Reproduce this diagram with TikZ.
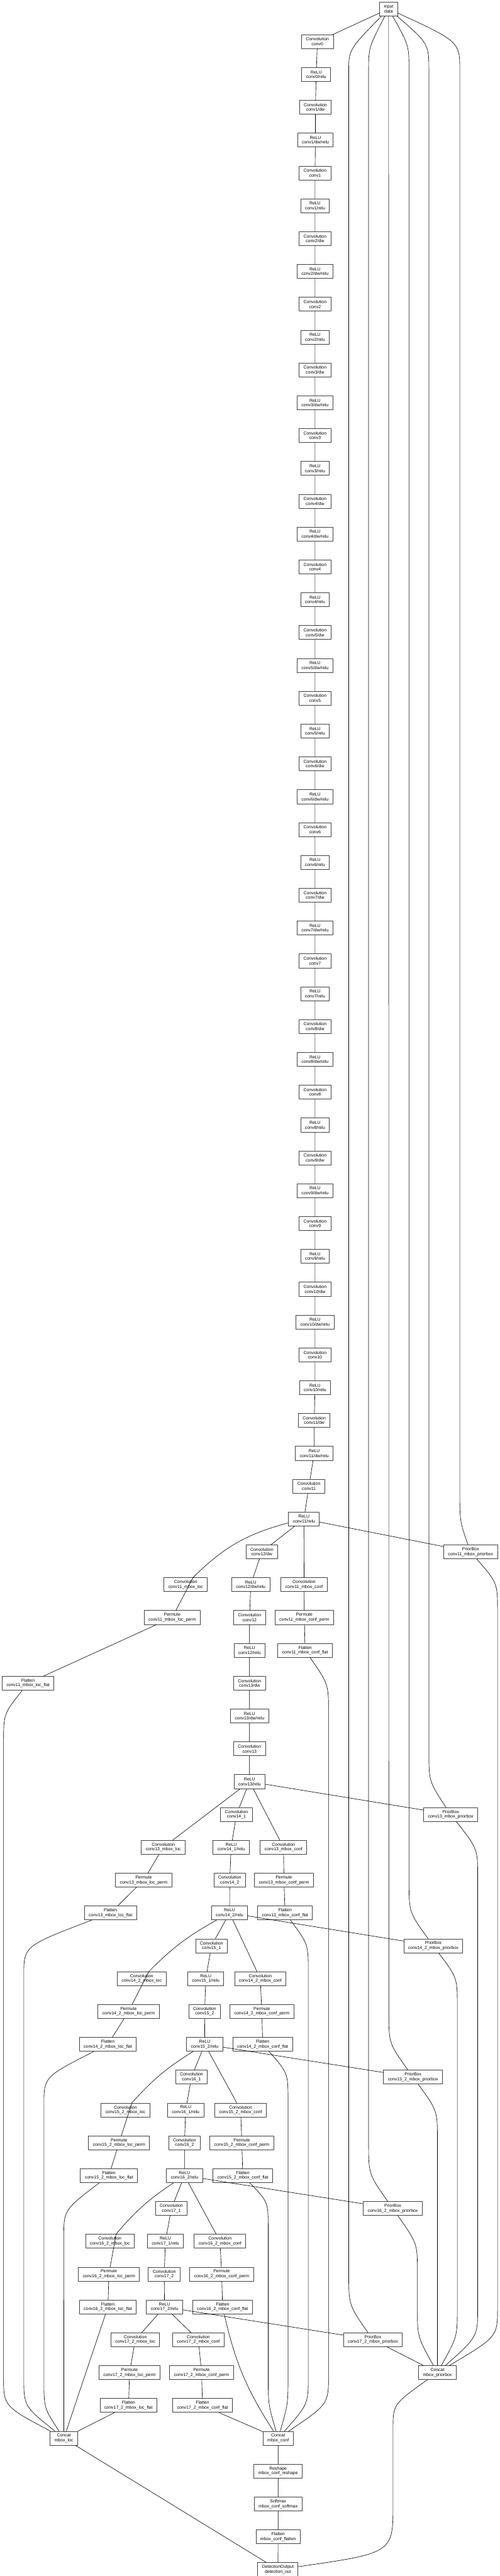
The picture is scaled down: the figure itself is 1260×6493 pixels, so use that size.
\documentclass[tikz,border=0pt]{standalone}
\usepackage{fontspec}
\setmainfont{Liberation Sans}
\tikzset{
  layer/.style={draw=black!75,line width=1pt,fill=white,align=center,
    inner xsep=8.25pt,inner ysep=2pt,minimum height=26.25pt,
    font=\fontsize{8.25}{9}\selectfont},
  link/.style={line width=0.75pt},
}
\begin{document}
\begin{tikzpicture}[x=0.75pt,y=0.75pt,line cap=round,line join=round]
  \useasboundingbox (0,0) rectangle (1260,-6493);
  % input
  \node[layer] (data) at (979.5,-22.25) {input\\data};
  % backbone conv0 .. conv11
  \node[layer] (c0) at (800,-105) {Convolution\\conv0};
  \node[layer] (c0r) at (797,-187.75) {ReLU\\conv0/relu};
  \node[layer] (c1dw) at (795,-270.5) {Convolution\\conv1/dw};
  \node[layer] (c1dwr) at (795,-353.25) {ReLU\\conv1/dw/relu};
  \node[layer] (c1) at (794,-436) {Convolution\\conv1};
  \node[layer] (c1r) at (794,-518.75) {ReLU\\conv1/relu};
  \node[layer] (c2dw) at (794,-601.5) {Convolution\\conv2/dw};
  \node[layer] (c2dwr) at (794,-684.25) {ReLU\\conv2/dw/relu};
  \node[layer] (c2) at (794,-767) {Convolution\\conv2};
  \node[layer] (c2r) at (794,-849.75) {ReLU\\conv2/relu};
  \node[layer] (c3dw) at (794,-932.5) {Convolution\\conv3/dw};
  \node[layer] (c3dwr) at (794,-1015.25) {ReLU\\conv3/dw/relu};
  \node[layer] (c3) at (794,-1098) {Convolution\\conv3};
  \node[layer] (c3r) at (794,-1180.75) {ReLU\\conv3/relu};
  \node[layer] (c4dw) at (794,-1263.5) {Convolution\\conv4/dw};
  \node[layer] (c4dwr) at (794,-1346.25) {ReLU\\conv4/dw/relu};
  \node[layer] (c4) at (794,-1429) {Convolution\\conv4};
  \node[layer] (c4r) at (794,-1511.75) {ReLU\\conv4/relu};
  \node[layer] (c5dw) at (794,-1594.5) {Convolution\\conv5/dw};
  \node[layer] (c5dwr) at (794,-1677.25) {ReLU\\conv5/dw/relu};
  \node[layer] (c5) at (794,-1760) {Convolution\\conv5};
  \node[layer] (c5r) at (794,-1842.75) {ReLU\\conv5/relu};
  \node[layer] (c6dw) at (794,-1925.5) {Convolution\\conv6/dw};
  \node[layer] (c6dwr) at (794,-2008.25) {ReLU\\conv6/dw/relu};
  \node[layer] (c6) at (794,-2091) {Convolution\\conv6};
  \node[layer] (c6r) at (794,-2173.75) {ReLU\\conv6/relu};
  \node[layer] (c7dw) at (794,-2256.5) {Convolution\\conv7/dw};
  \node[layer] (c7dwr) at (794,-2339.25) {ReLU\\conv7/dw/relu};
  \node[layer] (c7) at (794,-2422) {Convolution\\conv7};
  \node[layer] (c7r) at (794,-2504.75) {ReLU\\conv7/relu};
  \node[layer] (c8dw) at (794,-2587.5) {Convolution\\conv8/dw};
  \node[layer] (c8dwr) at (794,-2670.25) {ReLU\\conv8/dw/relu};
  \node[layer] (c8) at (794,-2753) {Convolution\\conv8};
  \node[layer] (c8r) at (794,-2835.75) {ReLU\\conv8/relu};
  \node[layer] (c9dw) at (794,-2918.5) {Convolution\\conv9/dw};
  \node[layer] (c9dwr) at (794,-3001.25) {ReLU\\conv9/dw/relu};
  \node[layer] (c9) at (794,-3084) {Convolution\\conv9};
  \node[layer] (c9r) at (794,-3166.75) {ReLU\\conv9/relu};
  \node[layer] (c10dw) at (794,-3249.5) {Convolution\\conv10/dw};
  \node[layer] (c10dwr) at (794,-3332.25) {ReLU\\conv10/dw/relu};
  \node[layer] (c10) at (794,-3415) {Convolution\\conv10};
  \node[layer] (c10r) at (794,-3497.75) {ReLU\\conv10/relu};
  \node[layer] (c11dw) at (792,-3580.5) {Convolution\\conv11/dw};
  \node[layer] (c11dwr) at (792,-3663.25) {ReLU\\conv11/dw/relu};
  \node[layer] (c11) at (778.6,-3746) {Convolution\\conv11};
  \node[layer] (c11r) at (766,-3828.75) {ReLU\\conv11/relu};
  % conv12 .. conv17
  \node[layer] (c12dw) at (660,-3911.5) {Convolution\\conv12/dw};
  \node[layer] (c12dwr) at (632,-3994.25) {ReLU\\conv12/dw/relu};
  \node[layer] (c12) at (629,-4077) {Convolution\\conv12};
  \node[layer] (c12r) at (629,-4159.75) {ReLU\\conv12/relu};
  \node[layer] (c13dw) at (629,-4242.5) {Convolution\\conv13/dw};
  \node[layer] (c13dwr) at (629,-4325.25) {ReLU\\conv13/dw/relu};
  \node[layer] (c13) at (629,-4408) {Convolution\\conv13};
  \node[layer] (c13r) at (629,-4490.75) {ReLU\\conv13/relu};
  \node[layer] (c141) at (596,-4573.5) {Convolution\\conv14\_1};
  \node[layer] (c141r) at (582.6,-4656.25) {ReLU\\conv14\_1/relu};
  \node[layer] (c142) at (579,-4739) {Convolution\\conv14\_2};
  \node[layer] (c142r) at (578.6,-4821.75) {ReLU\\conv14\_2/relu};
  \node[layer] (c151) at (533,-4904.5) {Convolution\\conv15\_1};
  \node[layer] (c151r) at (518.6,-4987.25) {ReLU\\conv15\_1/relu};
  \node[layer] (c152) at (515.8,-5070) {Convolution\\conv15\_2};
  \node[layer] (c152r) at (516,-5152.75) {ReLU\\conv15\_2/relu};
  \node[layer] (c161) at (482.6,-5235.5) {Convolution\\conv16\_1};
  \node[layer] (c161r) at (468,-5318.25) {ReLU\\conv16\_1/relu};
  \node[layer] (c162) at (465,-5401) {Convolution\\conv16\_2};
  \node[layer] (c162r) at (465,-5483.75) {ReLU\\conv16\_2/relu};
  \node[layer] (c171) at (432,-5566.5) {Convolution\\conv17\_1};
  \node[layer] (c171r) at (417,-5649.25) {ReLU\\conv17\_1/relu};
  \node[layer] (c172) at (414,-5732) {Convolution\\conv17\_2};
  \node[layer] (c172r) at (414.7,-5814.75) {ReLU\\conv17\_2/relu};
  % loc heads
  \node[layer] (loc11) at (468,-3994.25) {Convolution\\conv11\_mbox\_loc};
  \node[layer] (loc11p) at (434,-4077) {Permute\\conv11\_mbox\_loc\_perm};
  \node[layer] (loc11f) at (70.6,-4242.5) {Flatten\\conv11\_mbox\_loc\_flat};
  \node[layer] (loc13) at (411.6,-4656.25) {Convolution\\conv13\_mbox\_loc};
  \node[layer] (loc13p) at (362,-4739) {Permute\\conv13\_mbox\_loc\_perm};
  \node[layer] (loc13f) at (278.5,-4821.75) {Flatten\\conv13\_mbox\_loc\_flat};
  \node[layer] (loc14) at (357,-4987.25) {Convolution\\conv14\_2\_mbox\_loc};
  \node[layer] (loc14p) at (324,-5070) {Permute\\conv14\_2\_mbox\_loc\_perm};
  \node[layer] (loc14f) at (272,-5152.75) {Flatten\\conv14\_2\_mbox\_loc\_flat};
  \node[layer] (loc15) at (316,-5318.25) {Convolution\\conv15\_2\_mbox\_loc};
  \node[layer] (loc15p) at (300,-5401) {Permute\\conv15\_2\_mbox\_loc\_perm};
  \node[layer] (loc15f) at (274.5,-5483.75) {Flatten\\conv15\_2\_mbox\_loc\_flat};
  \node[layer] (loc16) at (277,-5649.25) {Convolution\\conv16\_2\_mbox\_loc};
  \node[layer] (loc16p) at (274.5,-5732) {Permute\\conv16\_2\_mbox\_loc\_perm};
  \node[layer] (loc16f) at (272,-5814.75) {Flatten\\conv16\_2\_mbox\_loc\_flat};
  \node[layer] (loc17) at (341,-5897.5) {Convolution\\conv17\_2\_mbox\_loc};
  \node[layer] (loc17p) at (326.6,-5980.25) {Permute\\conv17\_2\_mbox\_loc\_perm};
  \node[layer] (loc17f) at (324,-6063) {Flatten\\conv17\_2\_mbox\_loc\_flat};
  % conf heads
  \node[layer] (conf11) at (766.5,-3994.25) {Convolution\\conv11\_mbox\_conf};
  \node[layer] (conf11p) at (767,-4077) {Permute\\conv11\_mbox\_conf\_perm};
  \node[layer] (conf11f) at (769,-4159.75) {Flatten\\conv11\_mbox\_conf\_flat};
  \node[layer] (conf13) at (714.5,-4656.25) {Convolution\\conv13\_mbox\_conf};
  \node[layer] (conf13p) at (715.6,-4739) {Permute\\conv13\_mbox\_conf\_perm};
  \node[layer] (conf13f) at (718.5,-4821.75) {Flatten\\conv13\_mbox\_conf\_flat};
  \node[layer] (conf14) at (656,-4987.25) {Convolution\\conv14\_2\_mbox\_conf};
  \node[layer] (conf14p) at (660,-5070) {Permute\\conv14\_2\_mbox\_conf\_perm};
  \node[layer] (conf14f) at (662,-5152.75) {Flatten\\conv14\_2\_mbox\_conf\_flat};
  \node[layer] (conf15) at (606.5,-5318.25) {Convolution\\conv15\_2\_mbox\_conf};
  \node[layer] (conf15p) at (609.5,-5401) {Permute\\conv15\_2\_mbox\_conf\_perm};
  \node[layer] (conf15f) at (612,-5483.75) {Flatten\\conv15\_2\_mbox\_conf\_flat};
  \node[layer] (conf16) at (554.5,-5649.25) {Convolution\\conv16\_2\_mbox\_conf};
  \node[layer] (conf16p) at (558.7,-5732) {Permute\\conv16\_2\_mbox\_conf\_perm};
  \node[layer] (conf16f) at (561,-5814.75) {Flatten\\conv16\_2\_mbox\_conf\_flat};
  \node[layer] (conf17) at (500,-5897.5) {Convolution\\conv17\_2\_mbox\_conf};
  \node[layer] (conf17p) at (508,-5980.25) {Permute\\conv17\_2\_mbox\_conf\_perm};
  \node[layer] (conf17f) at (510.5,-6063) {Flatten\\conv17\_2\_mbox\_conf\_flat};
  % prior boxes
  \node[layer] (p11) at (1186,-3911.5) {PriorBox\\conv11\_mbox\_priorbox};
  \node[layer] (p13) at (1136,-4573.5) {PriorBox\\conv13\_mbox\_priorbox};
  \node[layer] (p14) at (1092,-4904.5) {PriorBox\\conv14\_2\_mbox\_priorbox};
  \node[layer] (p15) at (1041,-5235.5) {PriorBox\\conv15\_2\_mbox\_priorbox};
  \node[layer] (p16) at (990,-5566.5) {PriorBox\\conv16\_2\_mbox\_priorbox};
  \node[layer] (p17) at (940,-5897.5) {PriorBox\\conv17\_2\_mbox\_priorbox};
  % concat and output
  \node[layer] (mboxloc) at (161,-6145.75) {Concat\\mbox\_loc};
  \node[layer] (mboxconf) at (701,-6145.75) {Concat\\mbox\_conf};
  \node[layer] (mboxprior) at (1102.5,-5980.25) {Concat\\mbox\_priorbox};
  \node[layer] (reshape) at (701,-6228.5) {Reshape\\mbox\_conf\_reshape};
  \node[layer] (softmax) at (701,-6311.25) {Softmax\\mbox\_conf\_softmax};
  \node[layer] (flatten) at (701,-6394) {Flatten\\mbox\_conf\_flatten};
  \node[layer] (detout) at (700.5,-6476.75) {DetectionOutput\\detection\_out};

  % backbone links
  \draw[link] (data) -- (c0) -- (c0r) -- (c1dw) -- (c1dwr) -- (c1) -- (c1r)
    -- (c2dw) -- (c2dwr) -- (c2) -- (c2r) -- (c3dw) -- (c3dwr) -- (c3) -- (c3r)
    -- (c4dw) -- (c4dwr) -- (c4) -- (c4r) -- (c5dw) -- (c5dwr) -- (c5) -- (c5r)
    -- (c6dw) -- (c6dwr) -- (c6) -- (c6r) -- (c7dw) -- (c7dwr) -- (c7) -- (c7r)
    -- (c8dw) -- (c8dwr) -- (c8) -- (c8r) -- (c9dw) -- (c9dwr) -- (c9) -- (c9r)
    -- (c10dw) -- (c10dwr) -- (c10) -- (c10r) -- (c11dw) -- (c11dwr) -- (c11) -- (c11r);
  \draw[link] (c11r) -- (c12dw) -- (c12dwr) -- (c12) -- (c12r) -- (c13dw) -- (c13dwr)
    -- (c13) -- (c13r) -- (c141) -- (c141r) -- (c142) -- (c142r) -- (c151) -- (c151r)
    -- (c152) -- (c152r) -- (c161) -- (c161r) -- (c162) -- (c162r) -- (c171) -- (c171r)
    -- (c172) -- (c172r);
  % heads
  \draw[link] (c11r) to[bend right=15] (loc11) -- (loc11p) -- (loc11f);
  \draw[link] (c11r) -- (conf11) -- (conf11p) -- (conf11f);
  \draw[link] (c11r) -- (p11);
  \draw[link] (c13r) -- (loc13) -- (loc13p) -- (loc13f);
  \draw[link] (c13r) -- (conf13) -- (conf13p) -- (conf13f);
  \draw[link] (c13r) -- (p13);
  \draw[link] (c142r) to[bend right=8] (loc14) -- (loc14p) -- (loc14f);
  \draw[link] (c142r) -- (conf14) -- (conf14p) -- (conf14f);
  \draw[link] (c142r) -- (p14);
  \draw[link] (c152r) to[bend right=8] (loc15) -- (loc15p) -- (loc15f);
  \draw[link] (c152r) -- (conf15) -- (conf15p) -- (conf15f);
  \draw[link] (c152r) -- (p15);
  \draw[link] (c162r) to[bend right=8] (loc16) -- (loc16p) -- (loc16f);
  \draw[link] (c162r) -- (conf16) -- (conf16p) -- (conf16f);
  \draw[link] (c162r) -- (p16);
  \draw[link] (c172r) -- (loc17) -- (loc17p) -- (loc17f);
  \draw[link] (c172r) -- (conf17) -- (conf17p) -- (conf17f);
  \draw[link] (c172r) -- (p17);
  % data to prior boxes
  \draw[link] (data) .. controls (1159,-105) .. (1159,-180) -- (1159,-3760) .. controls (1159,-3835) .. (p11);
  \draw[link] (data) .. controls (1081,-110) .. (1081,-180) -- (1081,-4414) .. controls (1081,-4490) .. (p13);
  \draw[link] (data) .. controls (1031,-115) .. (1031,-180) -- (1031,-4743) .. controls (1031,-4820) .. (p14);
  \draw[link] (data) -- (980,-5071) .. controls (980,-5150) .. (p15);
  \draw[link] (data) .. controls (929,-120) .. (929,-180) -- (929,-5400) .. controls (929,-5480) .. (p16);
  \draw[link] (data) .. controls (879,-125) .. (879,-180) -- (879,-5730) .. controls (879,-5810) .. (p17);
  % prior boxes to concat
  \draw[link] (p11) .. controls (1254,-3990) .. (1254,-4062) -- (1254,-5817) .. controls (1254,-5890) .. (mboxprior);
  \draw[link] (p13) .. controls (1204,-4660) .. (1204,-4732) -- (1204,-5817) .. controls (1204,-5890) .. (mboxprior);
  \draw[link] (p14) .. controls (1152.6,-4985) .. (1152.6,-5058) -- (1152.6,-5817) .. controls (1152.6,-5890) .. (mboxprior);
  \draw[link] (p15) .. controls (1102.5,-5320) .. (1102.5,-5395) -- (mboxprior);
  \draw[link] (p16) .. controls (1052,-5655) .. (1052,-5726) -- (1052,-5817) .. controls (1052,-5890) .. (mboxprior);
  \draw[link] (p17) -- (mboxprior);
  % loc flats to concat
  \draw[link] (loc11f) .. controls (9,-4320) .. (9,-4392) -- (9,-5990) .. controls (9,-6065) .. (mboxloc);
  \draw[link] (loc13f) .. controls (60,-4905) .. (60,-4979) -- (60,-5990) .. controls (60,-6065) .. (mboxloc);
  \draw[link] (loc14f) .. controls (110.7,-5235) .. (110.7,-5306) -- (110.7,-5995) .. controls (110.7,-6070) .. (mboxloc);
  \draw[link] (loc15f) .. controls (160.7,-5570) .. (160.7,-5641) -- (mboxloc);
  \draw[link] (loc16f) -- (mboxloc);
  \draw[link] (loc17f) -- (mboxloc);
  % conf flats to concat
  \draw[link] (conf11f) .. controls (828,-4245) .. (828,-4316) -- (828,-5986) .. controls (828,-6060) .. (mboxconf);
  \draw[link] (conf13f) .. controls (777,-4900) .. (777,-4973) -- (777,-5986) .. controls (777,-6060) .. (mboxconf);
  \draw[link] (conf14f) .. controls (726,-5225) .. (726,-5297) -- (726,-5986) .. controls (726,-6060) .. (mboxconf);
  \draw[link] (conf15f) .. controls (676,-5550) .. (676,-5619) -- (676,-5986) .. controls (676,-6060) .. (mboxconf);
  \draw[link] (conf16f) to[bend right=10] (mboxconf);
  \draw[link] (conf17f) -- (mboxconf);
  % output
  \draw[link] (mboxconf) -- (reshape) -- (softmax) -- (flatten) -- (detout);
  \draw[link] (mboxloc) -- (detout);
  \draw[link] (mboxprior) .. controls (990.6,-6060) .. (990.6,-6123) -- (990.6,-6312) .. controls (990.6,-6435) .. (detout);
\end{tikzpicture}
\end{document}
